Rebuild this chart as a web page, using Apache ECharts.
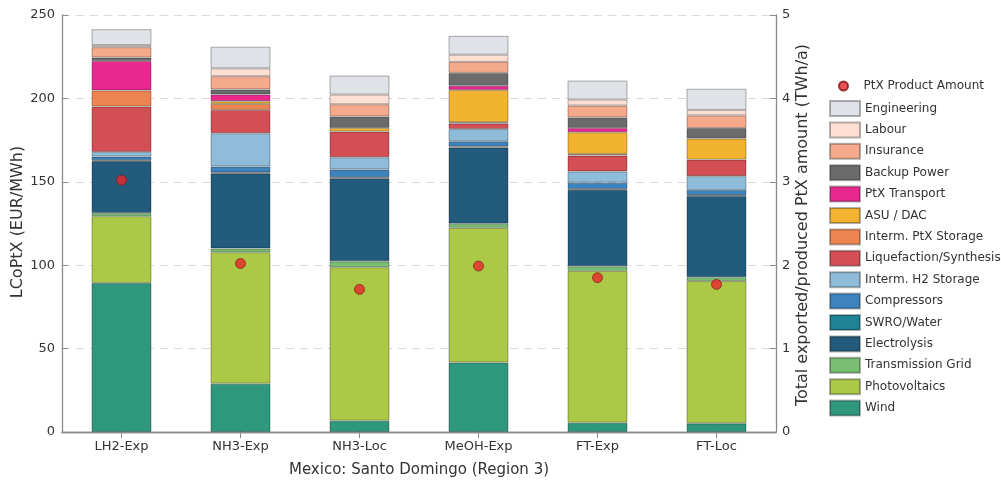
<!DOCTYPE html>
<html><head><meta charset="utf-8">
<script src="https://cdn.jsdelivr.net/npm/echarts/dist/echarts.min.js"></script>
<style>html,body{margin:0;padding:0;background:#fff}#c{width:1001px;height:483px}</style>
</head><body><div id="c"></div>
<script>
// ---- data ----
const categories = ['LH2-Exp', 'NH3-Exp', 'NH3-Loc', 'MeOH-Exp', 'FT-Exp', 'FT-Loc'];
const wind = [89.3, 29.0, 6.8, 41.7, 5.6, 5.2];
const photovoltaics = [40.1, 78.8, 92.0, 80.7, 91.0, 85.3];
const transmissionGrid = [1.9, 2.2, 3.5, 2.5, 2.7, 2.3];
const electrolysis = [31.1, 45.1, 49.9, 45.7, 45.9, 48.7];
const swroWater = [0.5, 0.5, 0.5, 0.5, 0.5, 0.5];
const compressors = [2.2, 3.6, 4.7, 3.2, 3.8, 3.1];
const intermH2Storage = [2.8, 19.9, 7.3, 7.3, 6.7, 8.3];
const liquefactionSynthesis = [27.2, 14.0, 15.4, 3.4, 9.5, 9.9];
const intermPtxStorage = [9.7, 3.6, 0, 0.7, 1.0, 0];
const asuDac = [0, 1.6, 2.2, 19.4, 13.0, 12.6];
const ptxTransport = [17.6, 4.1, 0, 2.5, 2.6, 0];
const backupPower = [2.1, 3.0, 6.9, 7.7, 6.3, 6.4];
const insurance = [6.2, 7.9, 7.3, 6.6, 7.1, 7.5];
const labour = [1.3, 4.7, 5.8, 4.3, 3.6, 3.3];
const engineering = [9.5, 13.0, 11.4, 11.3, 11.4, 12.7];
const ptxProductAmount = [3.02, 2.02, 1.71, 1.99, 1.85, 1.77];
const leftTicks = [0, 50, 100, 150, 200, 250];
const rightTicks = [0, 1, 2, 3, 4, 5];

// stacking order bottom -> top
const components = [
  ['Wind', wind, '#2e977c'],
  ['Photovoltaics', photovoltaics, '#abc846'],
  ['Transmission Grid', transmissionGrid, '#78bf72'],
  ['Electrolysis', electrolysis, '#225b7c'],
  ['SWRO/Water', swroWater, '#1f8296'],
  ['Compressors', compressors, '#3d83bd'],
  ['Interm. H2 Storage', intermH2Storage, '#8fbcd8'],
  ['Liquefaction/Synthesis', liquefactionSynthesis, '#d44e55'],
  ['Interm. PtX Storage', intermPtxStorage, '#ee8550'],
  ['ASU / DAC', asuDac, '#f2b331'],
  ['PtX Transport', ptxTransport, '#e8288f'],
  ['Backup Power', backupPower, '#6b6b6b'],
  ['Insurance', insurance, '#f5aa8c'],
  ['Labour', labour, '#fde0d3'],
  ['Engineering', engineering, '#dfe2e6']
];

const FONT = 'DejaVu Sans';
const TXT = '#333';
const AX = '#8a8a8a';

const series = components.map(([name, vals, color]) => ({
  name, type: 'bar', stack: 'total', yAxisIndex: 0, xAxisIndex: 0,
  barWidth: 60,
  data: vals.map(v => (v === 0 ? '-' : v)),
  itemStyle: { color, borderColor: 'rgba(0,0,0,0.3)', borderWidth: 1 },
  emphasis: { disabled: true }
}));
series.push({
  name: 'PtX Product Amount', type: 'scatter', yAxisIndex: 1, xAxisIndex: 0,
  data: ptxProductAmount, symbolSize: 10, z: 10,
  itemStyle: { color: '#e8262b', borderColor: '#7a1414', borderWidth: 0.8 }
});

const chart = echarts.init(document.getElementById('c'), null, { renderer: 'canvas' });
chart.setOption({
  animation: false,
  backgroundColor: '#fff',
  textStyle: { fontFamily: FONT },
  grid: { left: 62, right: 225, top: 15, bottom: 46, containLabel: false },
  xAxis: [{
    type: 'category', data: categories, position: 'bottom',
    axisLine: { lineStyle: { color: AX, width: 1.3 } },
    axisTick: { show: true, inside: true, alignWithLabel: true, length: 6, lineStyle: { color: AX } },
    axisLabel: { color: TXT, fontSize: 13, fontFamily: FONT, margin: 8 },
    name: 'Mexico: Santo Domingo (Region 3)', nameLocation: 'middle', nameGap: 31,
    nameTextStyle: { color: TXT, fontSize: 15, fontFamily: FONT }
  }, {
    type: 'category', data: categories, position: 'top',
    axisLine: { lineStyle: { color: AX, width: 1.3 } },
    axisTick: { show: true, inside: true, alignWithLabel: true, length: 6, lineStyle: { color: AX } },
    axisLabel: { show: false }
  }],
  yAxis: [{
    type: 'value', min: leftTicks[0], max: leftTicks[leftTicks.length - 1], interval: 50,
    position: 'left',
    axisLine: { show: true, lineStyle: { color: AX, width: 1.3 } },
    axisTick: { show: true, inside: true, length: 6, lineStyle: { color: AX } },
    axisLabel: { color: TXT, fontSize: 13, fontFamily: FONT, margin: 7 },
    splitLine: { show: true, lineStyle: { color: '#dadada', type: [8, 6], width: 1 } }
  }, {
    type: 'value', min: rightTicks[0], max: rightTicks[rightTicks.length - 1], interval: 1,
    position: 'right',
    axisLine: { show: true, lineStyle: { color: AX, width: 1.3 } },
    axisTick: { show: true, inside: true, length: 6, lineStyle: { color: AX } },
    axisLabel: { color: TXT, fontSize: 13, fontFamily: FONT, margin: 6 },
    splitLine: { show: false }
  }],
  legend: [{
    data: [{ name: 'PtX Product Amount', icon: 'circle' }],
    left: 838, top: 80, orient: 'vertical', padding: 0,
    itemWidth: 30, itemHeight: 9, itemGap: 4,
    textStyle: { color: TXT, fontSize: 12, fontFamily: FONT },
    selectedMode: false
  }, {
    data: components.map(c => c[0]).reverse(),
    left: 829, top: 100, orient: 'vertical', padding: 0,
    itemWidth: 30, itemHeight: 15, itemGap: 4.4,
    icon: 'rect',
    textStyle: { color: TXT, fontSize: 12, fontFamily: FONT },
    selectedMode: false
  }],
  graphic: [{
    type: 'text', x: 18, y: 222, rotation: Math.PI / 2,
    style: { text: 'LCoPtX (EUR/MWh)', fill: TXT, font: '16px "DejaVu Sans"', textAlign: 'center', textVerticalAlign: 'middle' }
  }, {
    type: 'text', x: 803, y: 225, rotation: Math.PI / 2,
    style: { text: 'Total exported/produced PtX amount (TWh/a)', fill: TXT, font: '16px "DejaVu Sans"', textAlign: 'center', textVerticalAlign: 'middle' }
  }],
  series
});
</script>
</body></html>
